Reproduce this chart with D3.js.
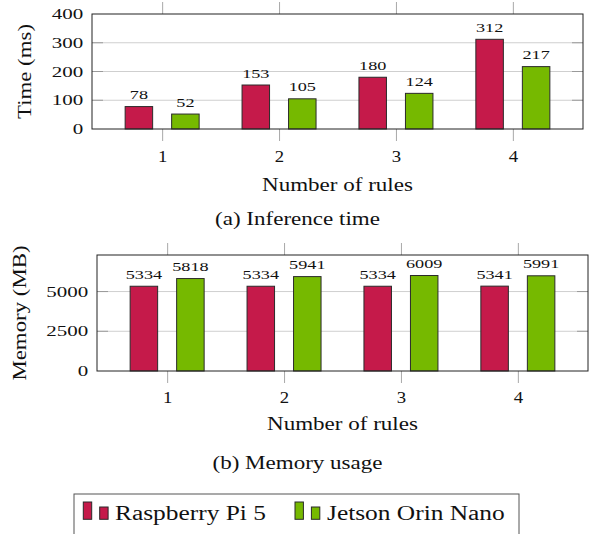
<!DOCTYPE html>
<html>
<head>
<meta charset="utf-8">
<script src="https://cdn.jsdelivr.net/npm/d3@7"></script>
<style>
  body { margin: 0; background: #fff; }
  svg { display: block; }
  text { font-family: "Liberation Serif", "Times New Roman", serif; fill: #111; }
</style>
</head>
<body>
<div id="chart"></div>
<script>
// values
var rules = [1, 2, 3, 4];
var piTime = [78, 153, 180, 312];
var jetsonTime = [52, 105, 124, 217];
var piMem = [5334, 5334, 5334, 5341];
var jetsonMem = [5818, 5941, 6009, 5991];
var timeTicks = [0, 100, 200, 300, 400];
var memTicks = [0, 2500, 5000];
var seriesNames = ["Raspberry Pi 5", "Jetson Orin Nano"];
var seriesColors = ["#c51a4a", "#76b900"];

var W = 595, H = 534;
var svg = d3.select("#chart").append("svg")
    .attr("width", W)
    .attr("height", H);

// text with a horizontal stretch, the reference font runs wide
function label(parent, x, y, str, size, k, anchor, rot) {
    return parent.append("text")
        .attr("transform", "translate(" + x + "," + y + ")" + (rot ? " rotate(" + rot + ")" : "") + " scale(" + k + ",1)")
        .attr("text-anchor", anchor || "middle")
        .attr("font-size", size)
        .text(str);
}

function panel(o) {
    var g = svg.append("g");
    var x = d3.scaleLinear().domain([0.4, 4.6]).range([o.x0, o.x1]);
    var y = d3.scaleLinear().domain([0, o.ymax]).range([o.y1, o.y0]);

    // grid
    g.selectAll(".grid").data(o.ticks.filter(function(d) { return d > 0 && y(d) > o.y0 + 1; }))
      .enter().append("line")
        .attr("x1", o.x0).attr("x2", o.x1)
        .attr("y1", function(d) { return y(d); })
        .attr("y2", function(d) { return y(d); })
        .attr("stroke", "#cfcfcf").attr("stroke-width", 1);

    // y tick marks inside on both sides
    [o.x0, o.x1].forEach(function(sx, i) {
        g.selectAll(".yt" + i).data(o.ticks.filter(function(d) { return d > 0 && y(d) > o.y0 + 1; }))
          .enter().append("line")
            .attr("x1", sx).attr("x2", sx + (i ? -11 : 11))
            .attr("y1", function(d) { return y(d); })
            .attr("y2", function(d) { return y(d); })
            .attr("stroke", "#9a9a9a").attr("stroke-width", 1);
    });

    // y tick labels
    o.ticks.forEach(function(d) {
        label(g, o.x0 - 8.7, y(d) + 5, d, 15, 1.4, "end");
    });

    // x ticks, outside at bottom and top
    var bottom = g.append("g")
        .attr("transform", "translate(0," + o.y1 + ")")
        .call(d3.axisBottom(x).tickValues(rules).tickSize(12).tickFormat(d3.format("d")));
    var top = g.append("g")
        .attr("transform", "translate(0," + o.y0 + ")")
        .call(d3.axisTop(x).tickValues(rules).tickSize(12).tickFormat(""));
    [bottom, top].forEach(function(ax) {
        ax.select(".domain").remove();
        ax.selectAll("line").attr("stroke", "#a8a8a8");
    });
    bottom.selectAll("text")
        .attr("y", null).attr("dy", null)
        .attr("transform", "translate(0," + o.tickLabDy + ") scale(1.07,1)")
        .attr("font-size", 17.5)
        .attr("font-family", null)
        .attr("fill", "#111");

    // bars
    var offs = [-23.25, 23.25], bw = 27.5;
    [o.a, o.b].forEach(function(vals, s) {
        g.selectAll(".bar" + s).data(vals).enter().append("rect")
            .attr("x", function(d, i) { return x(rules[i]) + offs[s] - bw / 2; })
            .attr("y", function(d) { return y(d); })
            .attr("width", bw)
            .attr("height", function(d) { return y(0) - y(d); })
            .attr("fill", seriesColors[s])
            .attr("stroke", "#2a2a2a").attr("stroke-width", 1);
        vals.forEach(function(d, i) {
            label(g, x(rules[i]) + offs[s], y(d) - 7.5, d, 13, 1.4, "middle");
        });
    });

    // frame
    g.append("rect")
        .attr("x", o.x0).attr("y", o.y0)
        .attr("width", o.x1 - o.x0).attr("height", o.y1 - o.y0)
        .attr("fill", "none").attr("stroke", "#222").attr("stroke-width", 1);

    label(g, (o.x0 + o.x1) / 2, o.xlabY, "Number of rules", 18, 1.28, "middle");
    label(g, o.ylabX, (o.y0 + o.y1) / 2, o.ylab, 18, 1.27, "middle", -90);
    label(svg, W / 2, o.capY, o.caption, 18, 1.28, "middle");
}

panel({
    x0: 92, x1: 583, y0: 14, y1: 129, ymax: 400, ticks: timeTicks,
    a: piTime, b: jetsonTime, tickLabDy: 33,
    xlabY: 191, ylabX: 31, ylab: "Time (ms)",
    capY: 225, caption: "(a) Inference time"
});

panel({
    x0: 97, x1: 588, y0: 255, y1: 371, ymax: 7300, ticks: memTicks,
    a: piMem, b: jetsonMem, tickLabDy: 32,
    xlabY: 430, ylabX: 26, ylab: "Memory (MB)",
    capY: 469, caption: "(b) Memory usage"
});

/* legend */
var leg = svg.append("g");
leg.append("rect")
    .attr("x", 74).attr("y", 494)
    .attr("width", 445).attr("height", 60)
    .attr("fill", "none").attr("stroke", "#555").attr("stroke-width", 1);

var legX = [83.3, 295];
var textX = [115, 327];
seriesNames.forEach(function(name, i) {
    leg.append("rect")
        .attr("x", legX[i]).attr("y", 502)
        .attr("width", 8.4).attr("height", 17.3)
        .attr("fill", seriesColors[i]).attr("stroke", "#2a2a2a").attr("stroke-width", 1);
    leg.append("rect")
        .attr("x", legX[i] + 16.4).attr("y", 507)
        .attr("width", 8.4).attr("height", 12.3)
        .attr("fill", seriesColors[i]).attr("stroke", "#2a2a2a").attr("stroke-width", 1);
    label(leg, textX[i], 520, name, 20, 1.27, "start");
});
</script>
</body>
</html>
